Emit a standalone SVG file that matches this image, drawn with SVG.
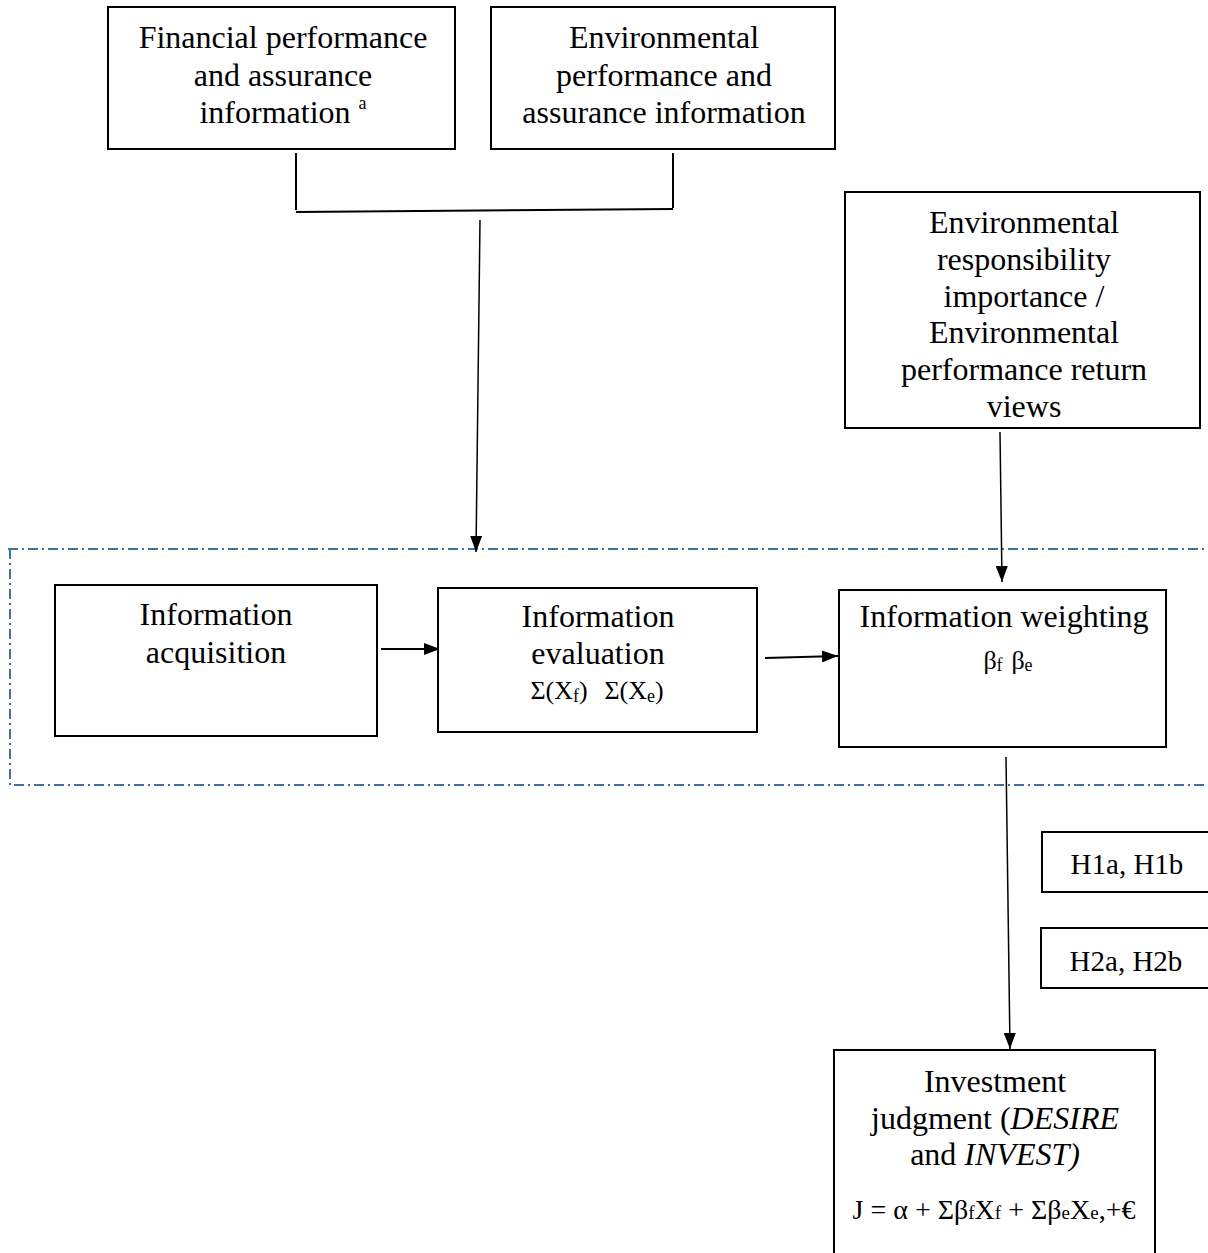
<svg xmlns="http://www.w3.org/2000/svg" width="1208" height="1253" viewBox="0 0 1208 1253" font-family="'Liberation Serif', 'Times New Roman', serif">
<defs>
<style>
.box{fill:#fff;stroke:#000;stroke-width:2}
.t{font-family:'Liberation Serif','Times New Roman',serif;font-size:32px;fill:#000;text-anchor:middle}
.s{font-family:'Liberation Serif','Times New Roman',serif;font-size:26px;fill:#000;text-anchor:middle}
.sub{font-size:18px}
.c{stroke:#000;stroke-width:2;fill:none}
.a{stroke:#000;stroke-width:1.5;fill:none;marker-end:url(#ah)}
.dash{stroke:#41719c;stroke-width:2;fill:none;stroke-dasharray:10 4 2 4}
</style>
<marker id="ah" viewBox="0 0 16 12" refX="16" refY="6" markerWidth="16" markerHeight="12" markerUnits="userSpaceOnUse" orient="auto">
<path d="M0,0 L16,6 L0,12 z" fill="#000"/>
</marker>
</defs>
<rect width="1208" height="1253" fill="#fff"/>
<g id="boundary">
<path class="dash" d="M8,549 H1208 M10,549 V785 H1208"/>
</g>
<g id="connectors">
<path class="c" d="M296,153 V210 M673,153 V208 M296,212 L673,209"/>
<path class="a" d="M480,220 L476,552"/>
<path class="a" d="M1000,432 L1002,582"/>
<path class="a" style="stroke-width:2" d="M381,649 L440,649"/>
<path class="a" style="stroke-width:2" d="M765,658 L838,656"/>
<path class="a" d="M1006,757 L1010,1049"/>
</g>
<g id="n-financial">
<rect class="box" x="108" y="7" width="347" height="142"/>
<text class="t" x="283" y="48">Financial performance</text>
<text class="t" x="283" y="86">and assurance</text>
<text class="t" x="283" y="123">information <tspan font-size="18" dy="-14">a</tspan></text>
</g>
<g id="n-environmental">
<rect class="box" x="491" y="7" width="344" height="142"/>
<text class="t" x="664" y="48">Environmental</text>
<text class="t" x="664" y="86">performance and</text>
<text class="t" x="664" y="123">assurance information</text>
</g>
<g id="n-views">
<rect class="box" x="845" y="192" width="355" height="236"/>
<text class="t" x="1024" y="233">Environmental</text>
<text class="t" x="1024" y="270">responsibility</text>
<text class="t" x="1024" y="307">importance /</text>
<text class="t" x="1024" y="343">Environmental</text>
<text class="t" x="1024" y="380">performance return</text>
<text class="t" x="1024" y="417">views</text>
</g>
<g id="n-acquisition">
<rect class="box" x="55" y="585" width="322" height="151"/>
<text class="t" x="216" y="625">Information</text>
<text class="t" x="216" y="663">acquisition</text>
</g>
<g id="n-evaluation">
<rect class="box" x="438" y="588" width="319" height="144"/>
<text class="t" x="598" y="627">Information</text>
<text class="t" x="598" y="664">evaluation</text>
<text class="s" x="559" y="699">Σ(X<tspan class="sub" dy="3">f</tspan><tspan dy="-3">)</tspan></text>
<text class="s" x="634" y="699">Σ(X<tspan class="sub" dy="3">e</tspan><tspan dy="-3">)</tspan></text>
</g>
<g id="n-weighting">
<rect class="box" x="839" y="590" width="327" height="157"/>
<text class="t" x="1004" y="627">Information weighting</text>
<text class="s" x="993" y="669">β<tspan class="sub" dy="2">f</tspan></text>
<text class="s" x="1022" y="669">β<tspan class="sub" dy="2">e</tspan></text>
</g>
<g id="n-h1">
<rect class="box" x="1042" y="832" width="170" height="60"/>
<text class="s" x="1127" y="874" style="font-size:29px">H1a, H1b</text>
</g>
<g id="n-h2">
<rect class="box" x="1041" y="928" width="171" height="60"/>
<text class="s" x="1126" y="971" style="font-size:29px">H2a, H2b</text>
</g>
<g id="n-judgment">
<rect class="box" x="834" y="1050" width="321" height="210"/>
<text class="t" x="995" y="1092">Investment</text>
<text class="t" x="995" y="1129">judgment (<tspan font-style="italic">DESIRE</tspan></text>
<text class="t" x="995" y="1165">and <tspan font-style="italic">INVEST)</tspan></text>
<text class="s" x="994" y="1219" style="font-size:28px">J = α + Σβ<tspan class="sub" style="font-size:19px">f</tspan>X<tspan class="sub" style="font-size:19px">f</tspan> + Σβ<tspan class="sub" style="font-size:19px">e</tspan>X<tspan class="sub" style="font-size:19px">e</tspan>,+€</text>
</g>
</svg>
